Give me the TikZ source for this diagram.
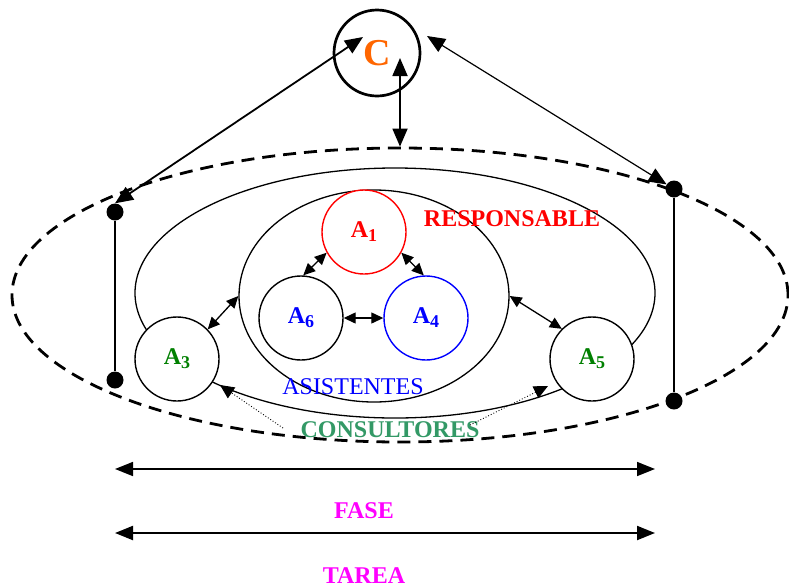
\documentclass[tikz,border=0pt]{standalone}
\usepackage{fontspec}
\setmainfont{Liberation Serif}
\usetikzlibrary{arrows.meta,shapes.geometric}
\definecolor{coordorange}{RGB}{255,102,0}
\definecolor{agentgreen}{RGB}{0,128,0}
\definecolor{consgreen}{RGB}{51,153,102}
\definecolor{spanpink}{RGB}{255,0,255}
\definecolor{pure red}{RGB}{255,0,0}
\definecolor{pure blue}{RGB}{0,0,255}
\newcommand\Asub[1]{A\raisebox{-4pt}{\fontsize{18}{18}\selectfont #1}}
\begin{document}
\begin{tikzpicture}[x=1pt,y=-1pt,
  agent/.style={circle,draw,line width=1.4pt,fill=white,minimum size=84pt,inner sep=0pt,
    font=\fontsize{24}{24}\selectfont\bfseries},
  blob/.style={circle,fill=black,minimum size=17pt,inner sep=0pt},
  ring/.style={ellipse,draw,line width=1.3pt,inner sep=0pt},
  lbl/.style={inner sep=0pt,font=\fontsize{24}{24}\selectfont\bfseries},
  lblplain/.style={inner sep=0pt,font=\fontsize{24}{24}\selectfont},
  bigarrow/.style={{Triangle[length=18pt,width=15pt]}-{Triangle[length=18pt,width=15pt]},line width=1.8pt},
  thinbig/.style={{Triangle[length=18pt,width=15pt]}-{Triangle[length=18pt,width=15pt]},line width=1.2pt},
  smallarrow/.style={{Triangle[length=12pt,width=11pt]}-{Triangle[length=12pt,width=11pt]},line width=1.3pt},
  dotarrow/.style={-{Triangle[length=14pt,width=13pt]},dotted,line width=0.9pt},
  span/.style={{Triangle[length=18pt,width=14pt]}-{Triangle[length=18pt,width=14pt]},line width=1.6pt},
]
\useasboundingbox (0,0) rectangle (789,587);

% enclosing areas
\node[ellipse,draw,dashed,dash pattern=on 13pt off 8pt,line width=2.8pt,
  minimum width=776pt,minimum height=294pt,inner sep=0pt] (project) at (400,295) {};
\node[ring,minimum width=520pt,minimum height=250pt] (team) at (395,293) {};
\node[ring,minimum width=270pt,minimum height=212pt] (core) at (374,296) {};

% coordinator
\node[circle,draw,line width=2.7pt,minimum size=86pt,inner sep=0pt,
  text=coordorange,font=\fontsize{38}{38}\selectfont\bfseries] (c) at (377,53) {C};

% agents
\node[agent,draw=pure red,text=pure red] (a1) at (364,232) {\Asub{1}};
\node[agent,text=pure blue] (a6) at (301,318) {\Asub{6}};
\node[agent,draw=pure blue,text=pure blue] (a4) at (426,318) {\Asub{4}};
\node[agent,text=agentgreen] (a3) at (177,359) {\Asub{3}};
\node[agent,text=agentgreen] (a5) at (592,359) {\Asub{5}};

% phase markers
\node[blob] (dl1) at (115,212) {};
\node[blob] (dl2) at (115,380) {};
\node[blob] (dr1) at (674,189) {};
\node[blob] (dr2) at (674,401) {};
\draw[line width=1.3pt] (dl1) -- (dl2);
\draw[line width=1.3pt] (dr1) -- (dr2);

% links with the coordinator
\coordinate (cleft) at (363,37);
\coordinate (cright) at (427,36);
\coordinate (cdown) at (400,58);
\draw[bigarrow] (cleft) -- (dl1.north);
\draw[thinbig] (cright) -- (dr1);
\draw[bigarrow] (cdown) -- (project.north);

% links between agents
\draw[smallarrow] (a1.209) -- (a6.87);
\draw[smallarrow] (a1.331) -- (a4.93);
\draw[smallarrow] (a6.east) -- (a4.west);
\draw[smallarrow] (a3.44) -- (core.west);
\draw[smallarrow] (a5.135) -- (core.east);

% labels
\node[lbl,text=pure red] (resp) at (512,219) {RESPONSABLE};
\node[lblplain,text=pure blue] (asis) at (353,387) {ASISTENTES};
\node[lbl,text=consgreen] (cons) at (390,430) {CONSULTORES};

% consultants reaching the outer agents
\coordinate (consl) at (283,428);
\coordinate (consr) at (470,425);
\coordinate (tipl) at (220,385);
\coordinate (tipr) at (548,386);
\draw[dotarrow] (consl) -- (tipl);
\draw[dotarrow] (consr) -- (tipr);

% time spans
\coordinate (f1) at (115,469);
\coordinate (f2) at (655,469);
\coordinate (t1) at (115,533);
\coordinate (t2) at (655,533);
\draw[span] (f1) -- (f2);
\draw[span,line width=2.1pt] (t1) -- (t2);
\node[lbl,text=spanpink] (fase) at (364,511) {FASE};
\node[lbl,text=spanpink] (tarea) at (364,576) {TAREA};
\end{tikzpicture}
\end{document}
